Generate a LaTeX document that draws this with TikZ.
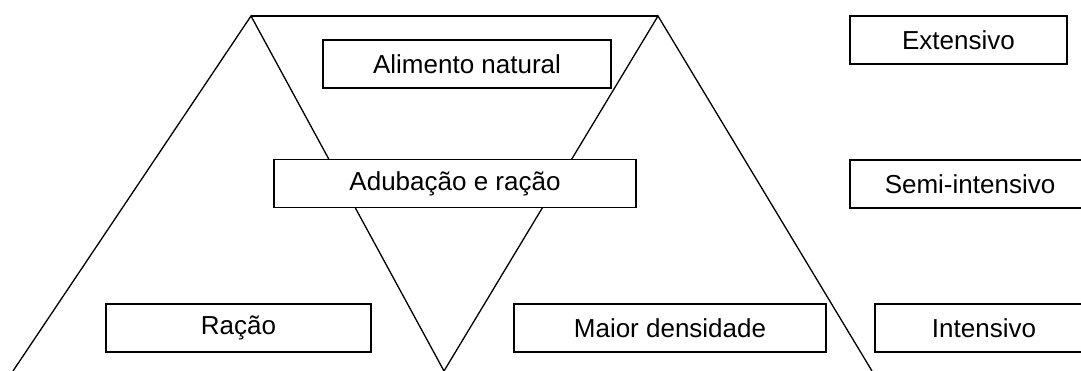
\documentclass[tikz,border=0pt]{standalone}
\usepackage{fontspec}
\setmainfont{Liberation Sans}
\begin{document}
\begin{tikzpicture}[x=1pt,y=-1pt,
            stagebox/.style={draw=black,line width=1.6pt,fill=white,inner sep=0pt,
              minimum height=48pt,font=\fontsize{26}{30}\selectfont}]
            \useasboundingbox (0,0) rectangle (1081,371);
            % triangles
            \coordinate (topL) at (251,16);
            \coordinate (topR) at (658,16);
            \coordinate (botL) at (13,371);
            \coordinate (botM) at (444,371);
            \coordinate (botR) at (872,371);
            \draw [black,line width=1.3pt] (botL) -- (topL) -- (botM) -- (topR) -- (botR);
            \draw [black,line width=1.3pt] (topL) -- (topR);
            % boxes
            \node [stagebox,minimum width=288pt] (natural) at (467,64) {Alimento natural};
            \node [stagebox,minimum width=362pt] (adubacao) at (455,183.5) {Adubação e ração};
            \node [stagebox,minimum width=265pt] (racao) at (238.5,328) {Ração};
            \node [stagebox,minimum width=312pt] (densidade) at (670,328) {Maior densidade};
            \node [stagebox,minimum width=217pt] (extensivo) at (958.5,40) {Extensivo};
            \node [stagebox,minimum width=240pt] (semi) at (970,184) {Semi-intensivo};
            \node [stagebox,minimum width=218pt] (intensivo) at (984,328) {Intensivo};
        \end{tikzpicture}
\end{document}
